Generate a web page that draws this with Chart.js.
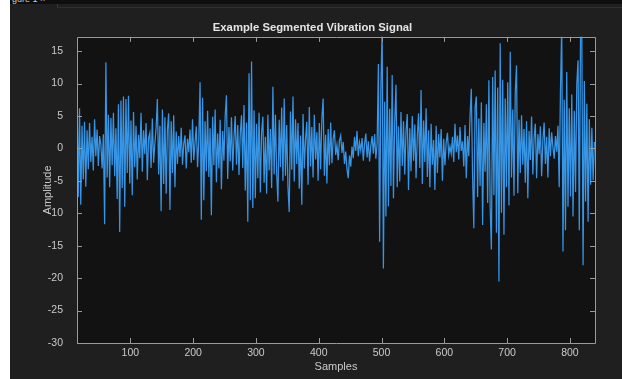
<!DOCTYPE html>
<html><head><meta charset="utf-8">
<script src="https://cdn.jsdelivr.net/npm/chart.js@4"></script>
<style>
html,body{margin:0;padding:0;background:#fff;width:622px;height:379px;overflow:hidden}
#fig{position:absolute;left:10px;top:0;width:612px;height:379px;background:#1f1f1f}
#strip{position:absolute;left:10px;top:0;width:612px;height:4px;background:#0e0e0e;overflow:hidden}
#tab{position:absolute;left:2px;top:-6px;font:9px "Liberation Sans",Arial,sans-serif;color:#c8c8c8;white-space:nowrap}
#tabline{position:absolute;left:57px;top:4px;width:565px;height:4px;border-left:1px solid #3a3a3a;border-bottom:1px solid #2f2f2f;box-sizing:border-box}
#wrap{position:absolute;left:0;top:0;width:622px;height:379px}
</style></head>
<body>
<div id="fig"></div>
<div id="strip"><span id="tab">gure 1 ×</span></div>
<div id="tabline"></div>
<div id="wrap"><canvas id="c" width="622" height="379"></canvas></div>
<script>
// ---- data ----
const chartTitle = 'Example Segmented Vibration Signal';
const xLabel = 'Samples';
const yLabel = 'Amplitude';
const sampleStart = 15;   // first plotted sample
const sampleStep = 2;     // spacing between plotted samples
const xTicks = [100, 200, 300, 400, 500, 600, 700, 800];
const yTicks = [-30, -25, -20, -15, -10, -5, 0, 5, 10, 15];
const amplitude = [
  8.6, -7.5, 6.2, -8.7, 3.5, -4.8, 4.1, -5.9, 2.8, -3.2, 3.9, -2.1, 1.8,
  -3.4, 4.5, -1.2, 2.9, -2.7, 1.9, 0.6, -3.1,
  2.2, -11.7, 13.3, -4.5, 5.2, -6.0, 4.7, -2.6, 5.5, -4.3,
  3.1, -7.8, 6.8, -12.9, 7.4,
  -6.1, 8.0, -9.0, 7.6, -3.8, 8.1, -5.4, 4.3, -7.2, 5.6, -2.9,
  3.5, -4.8, 2.1, -1.5, 5.5, -3.6, 2.8, -0.9, 3.9, -4.9, 1.6, 2.4, -3.0, 4.6, -2.2, 0.8, 3.2,
  7.6, -4.0, 3.5, -9.7, 6.0, -5.5, 4.8, -7.0, 3.0, 5.4, -9.5, 4.2, -3.8, 5.1, -6.0, 2.6, -2.4,
  1.9, -1.3, 3.2, -2.5, 0.7, 2.0, -3.1, 1.5, -0.6, 2.9, -2.2, 4.5, -1.8, 0.9, 3.4, -2.9, 1.2,
  10.2, -11.0, 7.8, -8.0,
  4.2, -3.5, 5.8, -4.4, 3.1, -10.3, 4.9, -2.6, 6.0, -5.2, 2.3,
  -3.1, 4.4, -6.3, 2.7, -1.9, 5.0, 8.2, -4.7, 3.3, -2.0,
  4.8, -3.4, 1.7, 5.0, -2.5, 3.6, -4.1, 2.2, 5.1, -3.0,
  6.7, -6.5, 4.0, -11.3, 11.6, -8.0, 13.4, -9.2,
  5.9, -7.7, 3.8, -4.6, 5.5, -6.8, 2.4, 4.9, -5.3, 1.8, -7.0, 5.2,
  -3.4, 3.0, -6.1, 9.5, -4.0,
  5.2, -3.8, -8.2, 4.4, -2.9, 6.3, -5.0, 7.7,
  -4.2, 3.6, -6.0, -9.8, 5.7, -3.3, 8.0, -5.1, 4.5, -2.4,
  3.9, -6.2, 2.0, -8.7, 5.3, -3.1, 1.4,
  4.1, -5.6, 6.4, -2.8, 3.3, -4.5, 5.2, -1.7, 2.5, -5.0, 3.9, -3.2, 4.6, 7.7, -4.2, 2.1, -5.4, 3.0, -2.6, 4.0,
  -2.3, 1.5, 2.8, -1.0, 0.5, -1.8, 1.2, 2.0, -0.7, 1.0, -2.4, -0.5, -3.2, -4.6, -1.1, -2.8, 0.3, -1.5, 1.8, -0.4,
  2.7, -1.2, 0.9, -0.3, 1.6, -1.9, 0.7, 2.3, -1.4, 1.1, -2.0, 0.4, 1.9, -0.8, 2.2, -1.6, 0.8,
  13.0, -14.4, 9.5, 18.5, -18.5, 7.2, -10.5, 12.6, -8.9, 6.1, -5.8, 11.3, -7.7, 4.0, 9.8, -6.0,
  3.4, -5.1, 5.6, -2.7, 4.2, -4.0, 2.6, 5.3, -6.4, 3.1, -3.5, 5.0, -1.9, 3.7, -4.6, 2.0, 5.4, -3.0,
  9.0, -5.5, 4.3, -2.1, 6.2, -4.4, 2.8, -6.0, 3.8, -2.5, 1.3, -6.4, 3.5, -3.8, 2.2, -1.4, 3.0, -5.0,
  1.5, -2.6, 0.9, 2.4, -1.0, 0.3, -0.8, 1.8, -2.1, 3.8, -0.6, 2.0, -1.7, 3.3, -0.4, 1.1, -2.8, 3.6, -4.6, 1.9, -1.2,
  5.0, 9.2, -4.1, -12.3, 6.3, 8.0, -7.5, 4.6, -5.8, 7.1, -11.8, 3.9, -3.6, 6.8, -8.4, 10.5,
  -9.0, -15.6, 11.0, -7.2, 12.0, -13.0, 9.4, -20.5, 16.2, -9.9, 10.6, -13.3, 7.7, -6.0, 10.2, -8.8, 14.9, -4.5, 6.0,
  -7.3, 8.6, 12.8, -6.9, 4.4,
  -3.8, 5.1, -2.5, 3.0, -5.3, 4.2, -7.7, 2.7, -1.8, 4.9, -4.0, 1.6, 3.8, -4.6, 2.2,
  -0.9, 3.4, -4.3, 1.2, 4.0, -2.4, 1.8, -4.5, 3.1, -1.2, 2.5, 0.2, -1.6, 1.9, -0.5,
  3.5, -6.0, 9.0, 19.0, -15.9, 7.5, -12.6, 11.8, -9.0, 6.2,
  -7.4, 8.3, -10.5, 5.8, -6.7, 9.9, 13.6, -12.6, 18.5, 17.8, -18.0, 10.4, -8.2, 6.9, -11.3,
  4.5, -5.6, 3.2, -4.9, 1.0
];

const points = amplitude.map((v, i) => ({ x: sampleStart + i * sampleStep, y: v }));

const FONT = '"Liberation Sans", Arial, Helvetica, sans-serif';
const TEXT = '#cacaca';
const AXIS = '#9a9a9a';

const matlabFrame = {
  id: 'matlabFrame',
  beforeDatasetsDraw(chart) {
    const { ctx, chartArea: a } = chart;
    ctx.save();
    ctx.fillStyle = '#121212';
    ctx.fillRect(a.left, a.top, a.right - a.left, a.bottom - a.top);
    ctx.restore();
  },
  afterDatasetsDraw(chart) {
    const { ctx, chartArea: a, scales } = chart;
    ctx.save();
    ctx.strokeStyle = AXIS;
    ctx.lineWidth = 1;
    ctx.beginPath();
    ctx.rect(Math.round(a.left) + 0.5, Math.round(a.top) + 0.5,
             Math.round(a.right - a.left), Math.round(a.bottom - a.top));
    ctx.stroke();
    const L = 5;
    ctx.beginPath();
    xTicks.forEach(t => {
      const px = Math.round(scales.x.getPixelForValue(t)) + 0.5;
      ctx.moveTo(px, a.bottom); ctx.lineTo(px, a.bottom - L);
      ctx.moveTo(px, a.top); ctx.lineTo(px, a.top + L);
    });
    yTicks.forEach(t => {
      const py = Math.round(scales.y.getPixelForValue(t)) + 0.5;
      ctx.moveTo(a.left, py); ctx.lineTo(a.left + L, py);
      ctx.moveTo(a.right, py); ctx.lineTo(a.right - L, py);
    });
    ctx.stroke();
    ctx.restore();
  }
};

new Chart(document.getElementById('c'), {
  type: 'line',
  data: {
    datasets: [{
      data: points,
      borderColor: '#3795e6',
      borderWidth: 1.25,
      pointRadius: 0,
      tension: 0,
      fill: false
    }]
  },
  options: {
    responsive: false,
    devicePixelRatio: 1,
    animation: false,
    layout: { padding: { left: 30, right: 27, top: 0, bottom: 0 } },
    plugins: {
      legend: { display: false },
      tooltip: { enabled: false },
      title: {
        display: true,
        text: chartTitle,
        color: '#e4e4e4',
        font: { family: FONT, size: 11.3, weight: 'bold' },
        padding: { top: 21, bottom: 2.3 }
      }
    },
    scales: {
      x: {
        type: 'linear',
        min: 15, max: 840,
        afterBuildTicks: s => { s.ticks = xTicks.map(v => ({ value: v })); },
        afterFit: s => { s.height = 36; },
        grid: { display: false, drawTicks: false },
        border: { display: false },
        ticks: { color: TEXT, font: { family: FONT, size: 10.5 }, padding: 4, maxRotation: 0, autoSkip: false },
        title: { display: true, text: xLabel, color: TEXT, font: { family: FONT, size: 11 }, padding: { top: 0, bottom: 5 } }
      },
      y: {
        type: 'linear',
        min: -30, max: 17.2,
        afterBuildTicks: s => { s.ticks = yTicks.map(v => ({ value: v })); },
        afterFit: s => { s.width = 47; },
        grid: { display: false, drawTicks: false },
        border: { display: false },
        ticks: { color: TEXT, font: { family: FONT, size: 10.5 }, padding: 14, autoSkip: false },
        title: { display: true, text: yLabel, color: TEXT, font: { family: FONT, size: 11 }, padding: { top: 11, bottom: 0 } }
      }
    }
  },
  plugins: [matlabFrame]
});
</script>
</body></html>
